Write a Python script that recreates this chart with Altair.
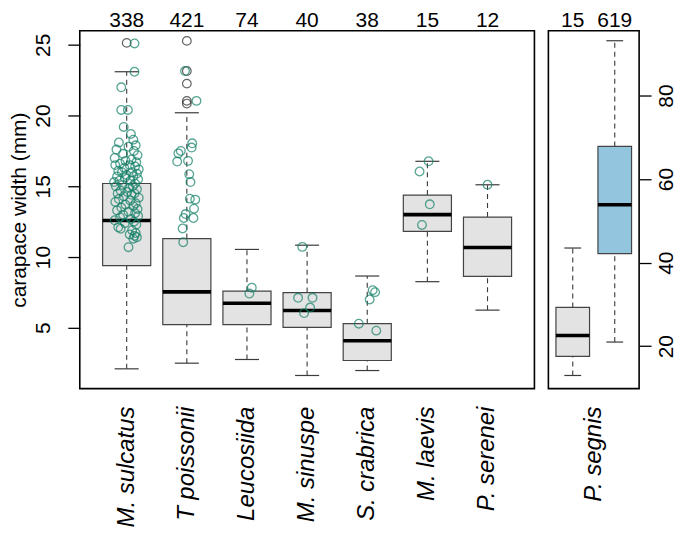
import altair as alt
import pandas as pd

# ---------------- data ----------------
species = ["M. sulcatus", "T poissonii", "Leucosiidae sp.", "M. sinuspersici",
           "S. crabricauda", "M. laevis", "P. serenei"]
counts = [338, 421, 74, 40, 38, 15, 12]
lower_whisker = [2.1, 2.5, 2.76, 1.63, 1.98, 8.26, 6.25]
q1 = [9.39, 5.22, 5.22, 5.03, 2.69, 11.81, 8.64]
medians = [12.58, 7.54, 6.74, 6.22, 4.09, 13.0, 10.68]
q3 = [15.2, 11.31, 7.59, 7.49, 5.29, 14.38, 12.83]
upper_whisker = [23.1, 20.2, 10.54, 10.84, 8.66, 16.77, 15.11]

# boxplot outliers (black circles): (box number, value)
outliers = [(1, 25.14), (2, 25.28), (2, 23.15), (2, 22.26), (2, 21.04), (2, 20.85)]

# jittered green points: (value, horizontal jitter in box units)
sulcatus_points = [(25.1, 0.13), (23.1, 0.13), (22.0, -0.09), (20.4, -0.09), (20.4, 0.02),
    (19.2, -0.05), (18.7, 0.07), (18.3, 0.11), (18.1, -0.13), (17.9, 0.15), (17.8, 0.03),
    (17.6, -0.17), (17.5, 0.12), (17.3, -0.06), (17.2, 0.18), (17.0, -0.2), (16.9, 0.08),
    (16.8, -0.02), (16.7, 0.16), (16.6, -0.11), (16.5, 0.05), (16.5, -0.19), (16.4, 0.14),
    (16.3, -0.04), (16.2, 0.2), (16.1, -0.14), (16.0, 0.09), (16.0, -0.08), (15.9, 0.17),
    (15.8, 0.0), (15.7, -0.16), (15.7, 0.11), (15.6, -0.03), (15.5, 0.19), (15.4, -0.12),
    (15.4, 0.06), (15.3, -0.21), (15.2, 0.14), (15.1, -0.07), (15.0, 0.1), (15.0, -0.18),
    (14.9, 0.04), (14.8, 0.17), (14.7, -0.1), (14.6, 0.01), (14.5, 0.13), (14.5, -0.15),
    (14.4, 0.08), (14.3, -0.05), (14.2, 0.2), (14.1, -0.13), (14.0, 0.06), (13.9, -0.19),
    (13.8, 0.15), (13.7, -0.02), (13.6, 0.11), (13.5, -0.09), (13.4, 0.18), (13.3, -0.16),
    (13.2, 0.03), (13.1, 0.14), (13.0, -0.06), (12.9, 0.19), (12.8, -0.11), (12.7, 0.07),
    (12.6, -0.2), (12.5, 0.12), (12.4, -0.03), (12.3, 0.16), (12.1, -0.14), (12.0, -0.1),
    (11.9, 0.09), (11.7, 0.15), (11.6, 0.05), (11.5, 0.13), (11.4, 0.17), (11.3, 0.11),
    (10.7, 0.03)]
poissonii_points = [(23.15, -0.03), (21.04, 0.16), (18.04, 0.09), (17.74, 0.08), (17.5, -0.10),
    (17.33, -0.14), (16.75, -0.16), (16.8, 0.02), (15.86, 0.04), (15.3, 0.06), (14.13, 0.05),
    (14.06, 0.14), (13.42, 0.12), (13.04, -0.02), (12.76, -0.05), (12.76, 0.11),
    (12.02, -0.07), (11.05, -0.06)]
leucosiidae_points = [(7.84, 0.08), (7.42, 0.04)]
sinuspersici_points = [(10.72, -0.08), (7.12, -0.15), (7.12, 0.09), (6.43, 0.05), (6.04, -0.05)]
crabricauda_points = [(5.29, -0.14), (4.80, 0.15), (7.0, 0.04), (7.66, 0.09), (7.52, 0.13)]
laevis_points = [(16.77, 0.02), (16.05, -0.13), (13.73, 0.04), (12.27, -0.09)]
serenei_points = [(15.11, 0.0)]

# P. segnis panel (right axis)
segnis_label = "P. segnis"
segnis_groups = ["small", "large"]
segnis_counts = [15, 619]
segnis_lower = [13.0, 21.0]
segnis_q1 = [17.55, 42.15]
segnis_median = [22.55, 53.85]
segnis_q3 = [29.3, 67.8]
segnis_upper = [43.5, 93.1]

# ---------------- tables ----------------
box_df = pd.DataFrame({
    "pos": list(range(1, len(species) + 1)), "name": species, "n": counts,
    "lw": lower_whisker, "q1": q1, "med": medians, "q3": q3, "uw": upper_whisker,
    "grp": ["g"] * len(species),
})
out_df = pd.DataFrame({"pos": [o[0] for o in outliers], "v": [o[1] for o in outliers]})
pts = []
for i, plist in enumerate([sulcatus_points, poissonii_points, leucosiidae_points,
                           sinuspersici_points, crabricauda_points, laevis_points,
                           serenei_points]):
    for v, j in plist:
        pts.append({"pos": i + 1, "v": v, "jit": j})
pts_df = pd.DataFrame(pts)
lab_df = pd.DataFrame({"pos": box_df["pos"], "name": species})

seg_df = pd.DataFrame({
    "pos": [1, 2], "n": segnis_counts, "lw": segnis_lower, "q1": segnis_q1,
    "med": segnis_median, "q3": segnis_q3, "uw": segnis_upper, "grp": segnis_groups,
})
seg_lab_df = pd.DataFrame({"pos": [1.5], "name": [segnis_label]})

# ---------------- styling ----------------
FONT = "Liberation Sans"
H = 359
GREEN = "#138068"
LINE = "#3a3a3a"


def panel(bdf, ldf, width, xdom, ydom, yaxis, fill_dom, fill_rng, odf=None, pdf=None):
    xs = alt.Scale(domain=xdom, nice=False, zero=False)
    ys = alt.Scale(domain=ydom, nice=False, zero=False)

    def X(f):
        return alt.X(f, type="quantitative", scale=xs, axis=None)

    def Y(f):
        return alt.Y(f, type="quantitative", scale=ys, axis=yaxis)

    base = alt.Chart(bdf).transform_calculate(
        bl="datum.pos - 0.4", br="datum.pos + 0.4",
        cl="datum.pos - 0.2", cr="datum.pos + 0.2")
    layers = [
        base.mark_rule(strokeDash=[5, 4], color=LINE, strokeWidth=1.1).encode(
            x=X("pos"), y=Y("lw"), y2="q1:Q"),
        base.mark_rule(strokeDash=[5, 4], color=LINE, strokeWidth=1.1).encode(
            x=X("pos"), y=Y("q3"), y2="uw:Q"),
        base.mark_rule(color=LINE, strokeWidth=1.2).encode(x=X("cl"), x2="cr:Q", y=Y("lw")),
        base.mark_rule(color=LINE, strokeWidth=1.2).encode(x=X("cl"), x2="cr:Q", y=Y("uw")),
        base.mark_rect(stroke="#444444", strokeWidth=1.2).encode(
            x=X("bl"), x2="br:Q", y=Y("q1"), y2="q3:Q",
            fill=alt.Fill("grp:N", scale=alt.Scale(domain=fill_dom, range=fill_rng), legend=None)),
        base.mark_rule(color="black", strokeWidth=3.6).encode(x=X("bl"), x2="br:Q", y=Y("med")),
    ]
    if odf is not None:
        layers.append(alt.Chart(odf).mark_point(shape="circle", filled=False, size=75,
                                                 color="#222222", strokeWidth=1.2).encode(
            x=X("pos"), y=Y("v")))
    if pdf is not None:
        layers.append(alt.Chart(pdf).transform_calculate(px="datum.pos + datum.jit").mark_point(
            shape="circle", filled=False, size=75, color=GREEN, strokeWidth=1.3).encode(
            x=X("px"), y=Y("v")))
    layers.append(base.mark_text(font=FONT, fontSize=21, baseline="top", align="center",
                                 color="black").encode(
        x=X("pos"), y=alt.value(-21), text="n:N"))
    layers.append(alt.Chart(ldf).mark_text(font=FONT, fontSize=24, fontStyle="italic",
                                           angle=270, align="right", baseline="middle",
                                           color="black", limit=124, ellipsis="\u200b").encode(
        x=X("pos"), y=alt.value(H + 18), text="name:N"))
    return alt.layer(*layers).properties(width=width, height=H)


left_axis = alt.Axis(values=[5, 10, 15, 20, 25], title="carapace width (mm)", grid=False,
                     domain=False, tickSize=12, tickColor="black", tickWidth=1.3,
                     labelAngle=270, labelAlign="center", labelBaseline="bottom",
                     labelPadding=14, labelFont=FONT, labelFontSize=21, labelColor="black",
                     labelFlush=False, labelOverlap=False,
                     titleFont=FONT, titleFontSize=21, titleFontWeight="normal",
                     titleColor="black", titlePadding=3)
right_axis = alt.Axis(values=[20, 40, 60, 80], title=None, orient="right", grid=False,
                      domain=False, tickSize=12, tickColor="black", tickWidth=1.3,
                      labelAngle=270, labelAlign="center", labelBaseline="top",
                      labelPadding=4, labelFont=FONT, labelFontSize=21, labelColor="black",
                      labelFlush=False, labelOverlap=False)

left = panel(box_df, lab_df, 456, [0.22, 7.78], [0.7, 26.0], left_axis,
             ["g"], ["#e3e3e3"], out_df, pts_df)
right = panel(seg_df, seg_lab_df, 91, [0.42, 2.58], [9.85, 95.5], right_axis,
              segnis_groups, ["#e3e3e3", "#93c5df"])

chart = alt.hconcat(left, right, spacing=12).resolve_scale(fill="independent").properties(
    padding=0).configure_view(stroke="black", strokeWidth=1.6)

chart.save("out.html", embed_options={"renderer": "svg", "actions": False})
